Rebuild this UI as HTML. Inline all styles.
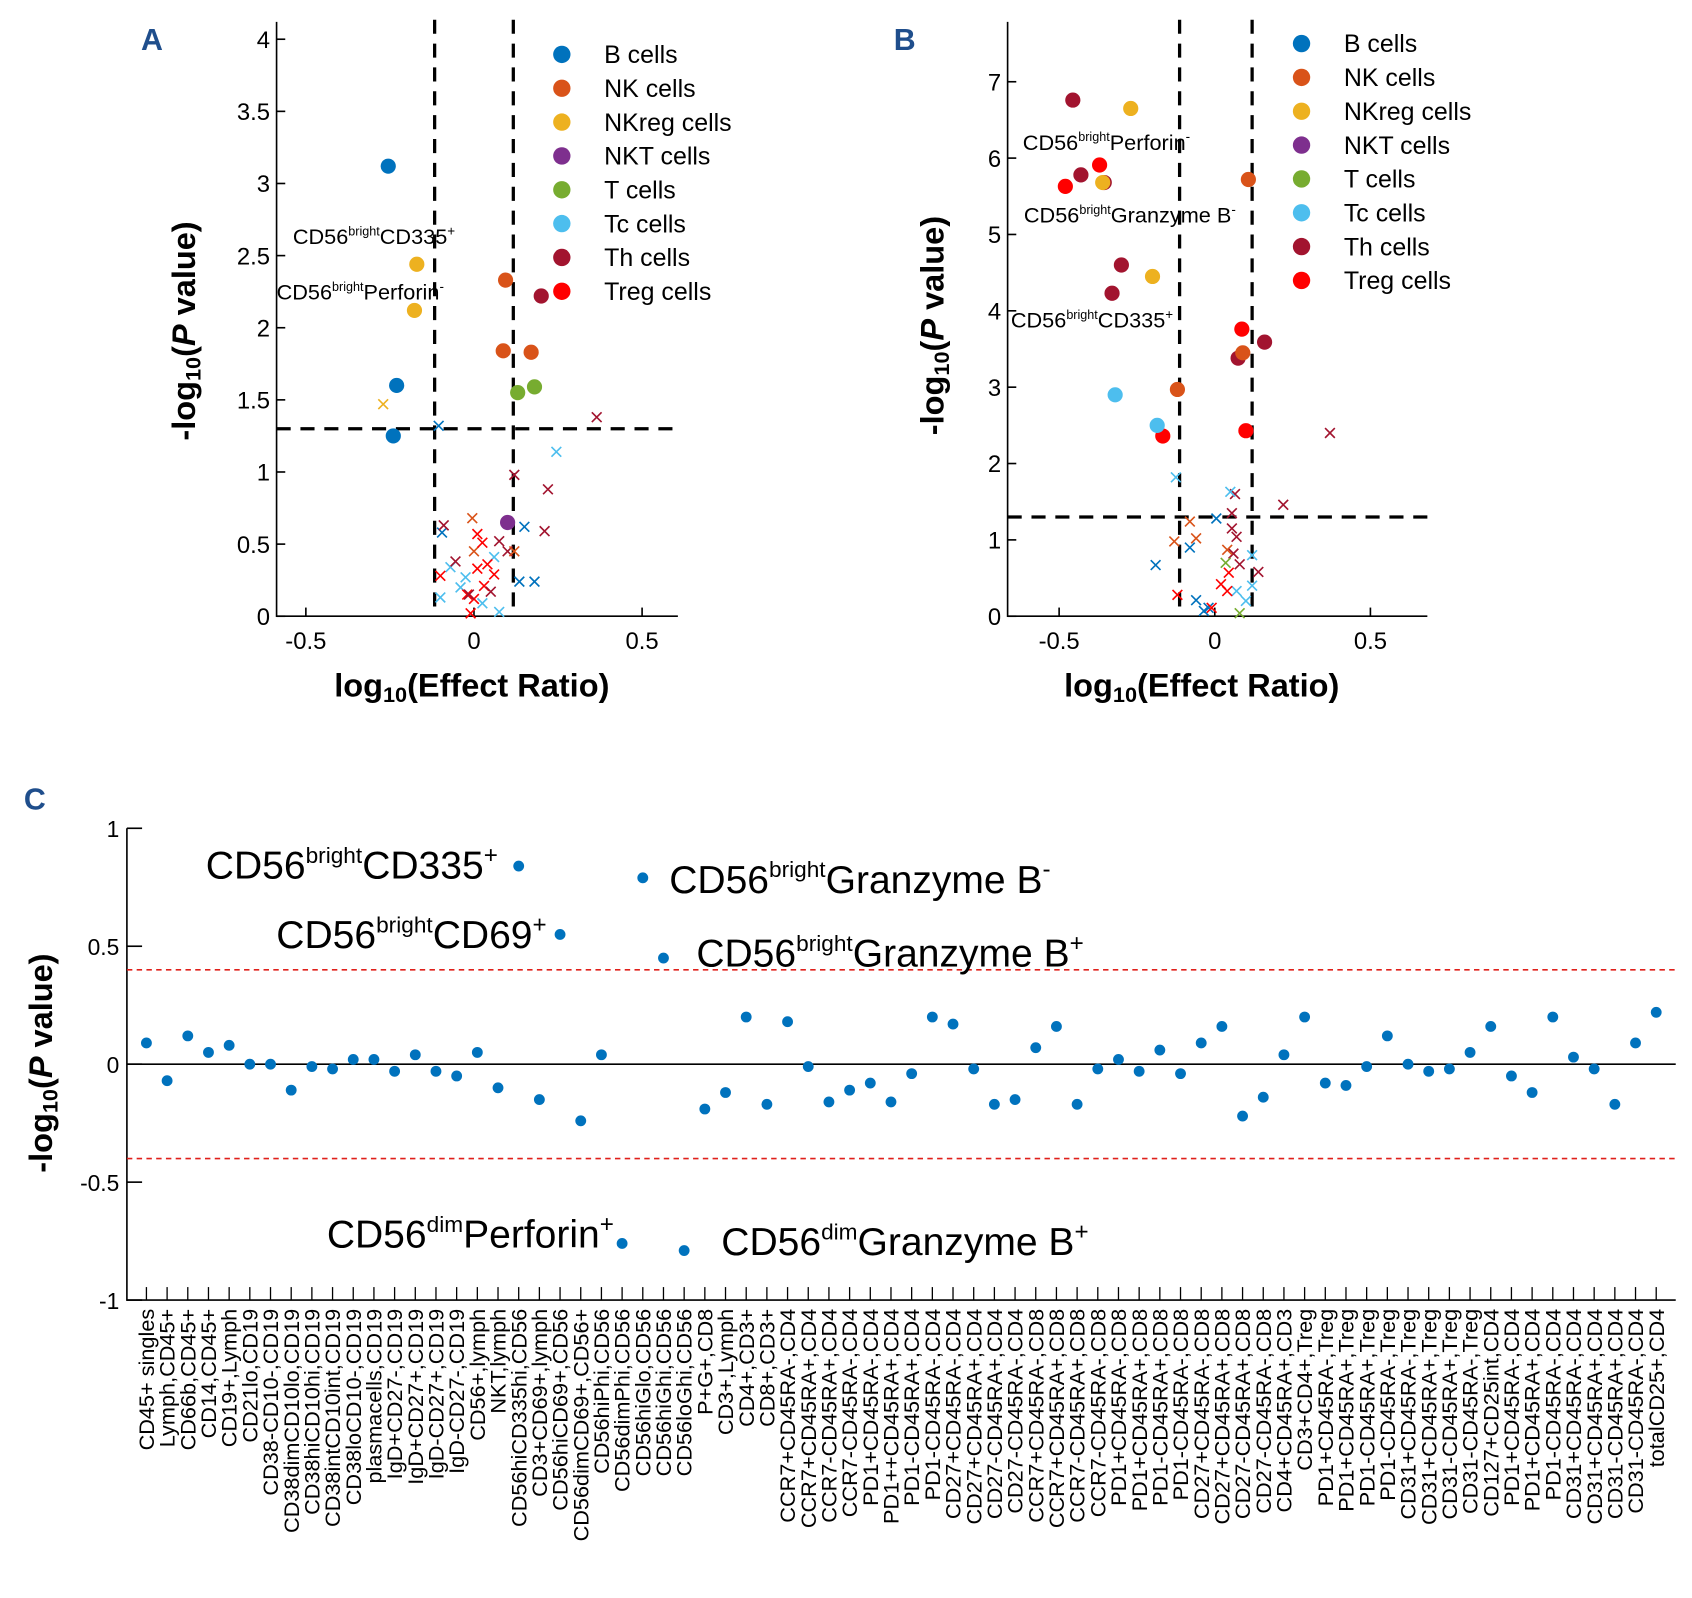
<!DOCTYPE html>
<html><head><meta charset="utf-8"><style>
html,body{margin:0;padding:0;background:#fff}
svg{display:block;font-family:"Liberation Sans",Arial,sans-serif}
</style></head><body>
<svg id="fig" width="1692" height="1598" viewBox="0 0 1560 1473" xmlns="http://www.w3.org/2000/svg">
<rect width="1560" height="1473" fill="#fff"/>
<g id="pa"></g>
<g id="pb"></g>
<g id="pc"></g>
</svg>
<script>
// ---- shared ----
const groupNames = ["B cells","NK cells","NKreg cells","NKT cells","T cells","Tc cells","Th cells","Treg cells"];
const groupColors = ["#0072BD","#D95319","#EDB120","#7E2F8E","#77AC30","#4DBEEE","#A2142F","#FF0000"];

// ---- Panel A data ----
const aSigX = [-0.255,-0.23,-0.24,-0.17,-0.177,0.094,0.087,0.17,0.2,0.13,0.18,0.1];
const aSigY = [3.12,1.6,1.25,2.44,2.12,2.33,1.84,1.83,2.22,1.55,1.59,0.65];
const aSigG = [0,0,0,2,2,1,1,1,6,4,4,3];
const aNsX = [-0.27,-0.105,-0.095,0.15,0.135,0.18,0.365,0.12,0.22,0.21,-0.09,0.1,0.245,-0.1,-0.07,-0.025,0.06,0.025,0.075,-0.04,-0.005,0,0.12,-0.1,0.025,0.01,-0.02,-0.01,0.04,0.06,0.01,0.03,0,-0.055,0.075,-0.015,0.05];
const aNsY = [1.47,1.32,0.58,0.62,0.24,0.24,1.38,0.98,0.88,0.59,0.63,0.45,1.14,0.13,0.34,0.27,0.41,0.09,0.03,0.2,0.68,0.45,0.45,0.28,0.51,0.57,0.15,0.02,0.36,0.29,0.33,0.21,0.12,0.38,0.52,0.15,0.17];
const aNsG = [2,0,0,0,0,0,6,6,6,6,6,6,5,5,5,5,5,5,5,5,1,1,1,7,7,7,7,7,7,7,7,7,7,6,6,6,6];
const aYTicks = [0,0.5,1,1.5,2,2.5,3,3.5,4];
const aXTicks = [-0.5,0,0.5];

// ---- Panel B data ----
const bSigX = [-0.456,-0.43,-0.355,-0.3,-0.33,0.075,0.16,-0.27,-0.36,-0.2,-0.37,-0.48,0.087,-0.167,0.1,0.108,0.09,-0.12,-0.32,-0.185];
const bSigY = [6.76,5.78,5.68,4.6,4.23,3.38,3.59,6.65,5.68,4.45,5.91,5.63,3.76,2.36,2.43,5.72,3.45,2.97,2.9,2.5];
const bSigG = [6,6,6,6,6,6,6,2,2,2,7,7,7,7,7,1,1,1,5,5];
const bNsX = [0.37,0.22,0.065,0.055,0.055,0.07,0.06,0.14,0.08,-0.125,0.05,0.12,0.07,0.1,0.12,-0.08,-0.13,-0.06,0.04,0.005,-0.08,-0.19,-0.06,-0.035,-0.02,-0.12,0.02,0.045,-0.01,0.04,0.035,0.08];
const bNsY = [2.4,1.46,1.6,1.35,1.15,1.04,0.82,0.58,0.68,1.82,1.63,0.8,0.33,0.2,0.4,1.24,0.98,1.02,0.87,1.28,0.9,0.67,0.21,0.07,0.11,0.28,0.42,0.57,0.11,0.33,0.7,0.04];
const bNsG = [6,6,6,6,6,6,6,6,6,5,5,5,5,5,5,1,1,1,1,0,0,0,0,0,0,7,7,7,7,7,4,4];
const bYTicks = [0,1,2,3,4,5,6,7];
const bXTicks = [-0.5,0,0.5];

// ---- Panel C data ----
const cCategories = ["CD45+ singles","Lymph,CD45+","CD66b,CD45+","CD14,CD45+","CD19+,Lymph","CD21lo,CD19","CD38-CD10-,CD19","CD38dimCD10lo,CD19","CD38hiCD10hi,CD19","CD38intCD10int,CD19","CD38loCD10-,CD19","plasmacells,CD19","IgD+CD27-,CD19","IgD+CD27+,CD19","IgD-CD27+,CD19","IgD-CD27-,CD19","CD56+,lymph","NKT,lymph","CD56hiCD335hi,CD56","CD3+CD69+,lymph","CD56hiCD69+,CD56","CD56dimCD69+,CD56+","CD56hiPhi,CD56","CD56dimPhi,CD56","CD56hiGlo,CD56","CD56hiGhi,CD56","CD56loGhi,CD56","P+G+,CD8","CD3+,Lymph","CD4+,CD3+","CD8+,CD3+","CCR7+CD45RA-,CD4","CCR7+CD45RA+,CD4","CCR7-CD45RA+,CD4","CCR7-CD45RA-,CD4","PD1+CD45RA-,CD4","PD1++CD45RA+,CD4","PD1-CD45RA+,CD4","PD1-CD45RA-,CD4","CD27+CD45RA-,CD4","CD27+CD45RA+,CD4","CD27-CD45RA+,CD4","CD27-CD45RA-,CD4","CCR7+CD45RA-,CD8","CCR7+CD45RA+,CD8","CCR7-CD45RA+,CD8","CCR7-CD45RA-,CD8","PD1+CD45RA-,CD8","PD1+CD45RA+,CD8","PD1-CD45RA+,CD8","PD1-CD45RA-,CD8","CD27+CD45RA-,CD8","CD27+CD45RA+,CD8","CD27-CD45RA+,CD8","CD27-CD45RA-,CD8","CD4+CD45RA+,CD3","CD3+CD4+,Treg","PD1+CD45RA-,Treg","PD1+CD45RA+,Treg","PD1-CD45RA+,Treg","PD1-CD45RA-,Treg","CD31+CD45RA-,Treg","CD31+CD45RA+,Treg","CD31-CD45RA+,Treg","CD31-CD45RA-,Treg","CD127+CD25int,CD4","PD1+CD45RA-,CD4","PD1+CD45RA+,CD4","PD1-CD45RA-,CD4","CD31+CD45RA-,CD4","CD31+CD45RA+,CD4","CD31-CD45RA+,CD4","CD31-CD45RA-,CD4","totalCD25+,CD4"];
const cValues = [0.09,-0.07,0.12,0.05,0.08,0,0,-0.11,-0.01,-0.02,0.02,0.02,-0.03,0.04,-0.03,-0.05,0.05,-0.10,0.84,-0.15,0.55,-0.24,0.04,-0.76,0.79,0.45,-0.79,-0.19,-0.12,0.2,-0.17,0.18,-0.01,-0.16,-0.11,-0.08,-0.16,-0.04,0.2,0.17,-0.02,-0.17,-0.15,0.07,0.16,-0.17,-0.02,0.02,-0.03,0.06,-0.04,0.09,0.16,-0.22,-0.14,0.04,0.2,-0.08,-0.09,-0.01,0.12,0,-0.03,-0.02,0.05,0.16,-0.05,-0.12,0.2,0.03,-0.02,-0.17,0.09,0.22];
const cYTicks = [-1,-0.5,0,0.5,1];
const cThreshold = [0.4,-0.4];

const NS="http://www.w3.org/2000/svg";
function mk(parent,tag,attrs,text){const e=document.createElementNS(NS,tag);for(const k in attrs)e.setAttribute(k,attrs[k]);if(text!==undefined)e.textContent=text;parent.appendChild(e);return e;}
function lbl(parent,x,y,size,pre,sup,mid,sup2,anchor,name){
  const t=mk(parent,"text",{x:x,y:y,"font-size":size,"text-anchor":anchor||"start",fill:"#000"});
  
  
  mk(t,"tspan",{},pre);
  mk(t,"tspan",{"font-size":size*0.58,dy:-size*0.4},sup);
  mk(t,"tspan",{dy:size*0.4},mid);
  mk(t,"tspan",{"font-size":size*0.62,dy:-size*0.4},sup2);
}
function cross(g,x,y,c){
  return mk(g,"path",{d:`M${x-4.5} ${y-4.5}L${x+4.5} ${y+4.5}M${x-4.5} ${y+4.5}L${x+4.5} ${y-4.5}`,stroke:c,"stroke-width":1.5,fill:"none"});
}

function volcano(gid,cfg){
  const g=document.getElementById(gid);
  const sx=v=>cfg.x0+cfg.xs*v, sy=v=>cfg.y0-cfg.ys*v;
  const L=mk(g,"text",{x:cfg.letterX,y:46,"font-size":28,"font-weight":"bold",fill:"#1f4e8c"},cfg.letter);
  
  
  const ax=mk(g,"path",{d:`M${cfg.axL} ${cfg.top}L${cfg.axL} ${cfg.y0}L${cfg.axR} ${cfg.y0}`,stroke:"#000","stroke-width":1.5,fill:"none"});
  
  
  cfg.yt.forEach(v=>{
    mk(g,"line",{x1:cfg.axL,x2:cfg.axL+8,y1:sy(v),y2:sy(v),stroke:"#000","stroke-width":1.5});
    const t=mk(g,"text",{x:cfg.axL-6,y:sy(v)+8,"font-size":22,"text-anchor":"end"},String(v));
    
    
  });
  cfg.xt.forEach(v=>{
    mk(g,"line",{x1:sx(v),x2:sx(v),y1:cfg.y0,y2:cfg.y0-8,stroke:"#000","stroke-width":1.5});
    const t=mk(g,"text",{x:sx(v),y:cfg.y0+30,"font-size":22,"text-anchor":"middle"},String(v));
    
    
  });
  [-cfg.fc,cfg.fc2].forEach(v=>{
    const l=mk(g,"line",{x1:sx(v),x2:sx(v),y1:18,y2:cfg.y0,stroke:"#000","stroke-width":3,"stroke-dasharray":"13,9"});
    
    
  });
  const h=mk(g,"line",{x1:cfg.axL,x2:cfg.axR,y1:sy(1.3),y2:sy(1.3),stroke:"#000","stroke-width":3,"stroke-dasharray":"13,9"});
  
  
  cfg.nx.forEach((v,i)=>{
    const c=cross(g,sx(v),sy(cfg.ny[i]),groupColors[cfg.ng[i]]);
    
    
  });
  cfg.sx.forEach((v,i)=>{
    const c=mk(g,"circle",{cx:sx(v),cy:sy(cfg.sy[i]),r:7,fill:groupColors[cfg.sg[i]]});
    
    
  });
  groupNames.forEach((n,i)=>{
    const y=cfg.legY+i*31.2;
    const c=mk(g,"circle",{cx:cfg.legX,cy:y,r:8,fill:groupColors[i]});
    
    
    const t=mk(g,"text",{x:cfg.legX+39,y:y+8,"font-size":23},n);
    
    
  });
  const xt=mk(g,"text",{x:cfg.xTitleX,y:642,"font-size":30,"font-weight":"bold","text-anchor":"middle"});
  
  
  mk(xt,"tspan",{},"log");mk(xt,"tspan",{"font-size":20,dy:5},"10");mk(xt,"tspan",{dy:-5},"(Effect Ratio)");
  const yt=mk(g,"text",{x:0,y:0,"font-size":30,"font-weight":"bold","text-anchor":"middle",transform:`translate(${cfg.yTitleX},${cfg.yTitleY}) rotate(-90)`});
  
  
  mk(yt,"tspan",{},"-log");mk(yt,"tspan",{"font-size":20,dy:5},"10");mk(yt,"tspan",{dy:-5},"(");mk(yt,"tspan",{"font-style":"italic"},"P");mk(yt,"tspan",{}," value)");
  return g;
}

const gA=volcano("pa",{x0:437,xs:310,y0:568,ys:133,axL:255,axR:625,top:20,yt:aYTicks,xt:aXTicks,fc:0.117,fc2:0.117,
  nx:aNsX,ny:aNsY,ng:aNsG,sx:aSigX,sy:aSigY,sg:aSigG,legX:518,legY:50,letter:"A",letterX:130,xTitleX:435,yTitleX:180,yTitleY:305});
lbl(gA,270,225,20,"CD56","bright","CD335","+","start","annotation-cd335");
lbl(gA,255,276,20,"CD56","bright","Perforin","-","start","annotation-perforin");

const gB=volcano("pb",{x0:1120,xs:287,y0:568,ys:70.4,axL:929,axR:1316,top:20,yt:bYTicks,xt:bXTicks,fc:0.113,fc2:0.12,
  nx:bNsX,ny:bNsY,ng:bNsG,sx:bSigX,sy:bSigY,sg:bSigG,legX:1200,legY:40,letter:"B",letterX:824,xTitleX:1108,yTitleX:870,yTitleY:300});
lbl(gB,943,138,20,"CD56","bright","Perforin","-","start","annotation-perforin");
lbl(gB,944,205,20,"CD56","bright","Granzyme B","-","start","annotation-granzyme");
lbl(gB,932,302,20,"CD56","bright","CD335","+","start","annotation-cd335");

// ---- Panel C ----
(function(){
  const g=document.getElementById("pc");
  const x0=135, dx=(1527-135)/(cCategories.length-1);
  const sx=i=>x0+dx*i, sy=v=>981-217.5*v;
  const L=mk(g,"text",{x:22,y:746,"font-size":28,"font-weight":"bold",fill:"#1f4e8c"},"C");
  
  
  const ax=mk(g,"path",{d:`M117 ${sy(1)}L117 ${sy(-1)}L1545 ${sy(-1)}`,stroke:"#000","stroke-width":1.5,fill:"none"});
  
  
  const z=mk(g,"line",{x1:117,x2:1545,y1:sy(0),y2:sy(0),stroke:"#000","stroke-width":1.5});
  
  
  cThreshold.forEach(v=>{
    const l=mk(g,"line",{x1:117,x2:1545,y1:sy(v),y2:sy(v),stroke:"#e0201b","stroke-width":1.5,"stroke-dasharray":"5,4"});
    
    
  });
  cYTicks.forEach(v=>{
    mk(g,"line",{x1:117,x2:131,y1:sy(v),y2:sy(v),stroke:"#000","stroke-width":1.5});
    const t=mk(g,"text",{x:110,y:sy(v)+8,"font-size":21,"text-anchor":"end"},String(v));
    
    
  });
  cCategories.forEach((c,i)=>{
    mk(g,"line",{x1:sx(i),x2:sx(i),y1:sy(-1),y2:sy(-1)-12,stroke:"#000","stroke-width":1.2});
    const t=mk(g,"text",{x:0,y:0,"font-size":20,"text-anchor":"end",transform:`translate(${sx(i)+7},${sy(-1)+8}) rotate(-90)`},c);
    
    
  });
  cValues.forEach((v,i)=>{
    const c=mk(g,"circle",{cx:sx(i),cy:sy(v),r:5,fill:"#0072BD"});
    
    
  });
  const yt=mk(g,"text",{x:0,y:0,"font-size":30,"font-weight":"bold","text-anchor":"middle",transform:`translate(48,980) rotate(-90)`});
  
  
  mk(yt,"tspan",{},"-log");mk(yt,"tspan",{"font-size":20,dy:5},"10");mk(yt,"tspan",{dy:-5},"(");mk(yt,"tspan",{"font-style":"italic"},"P");mk(yt,"tspan",{}," value)");
  lbl(g,459,810,36,"CD56","bright","CD335","+","end","annotation-cd335");
  lbl(g,504,874,36,"CD56","bright","CD69","+","end","annotation-cd69");
  lbl(g,617,823,36,"CD56","bright","Granzyme B","-","start","annotation-granzyme-neg");
  lbl(g,642,891,36,"CD56","bright","Granzyme B","+","start","annotation-granzyme-pos");
  lbl(g,566,1150,36,"CD56","dim","Perforin","+","end","annotation-perforin-dim");
  lbl(g,665,1157,36,"CD56","dim","Granzyme B","+","start","annotation-granzyme-dim");
})();
</script>
</body></html>
